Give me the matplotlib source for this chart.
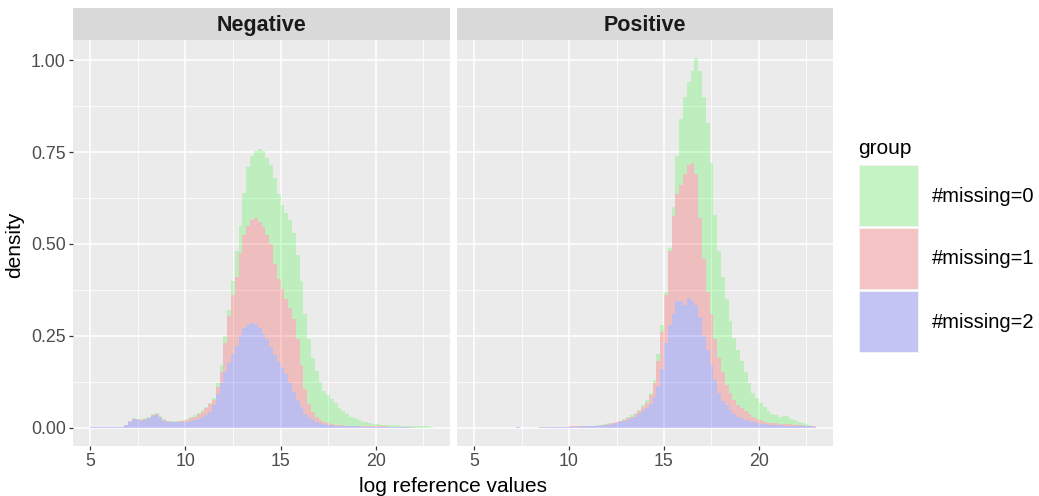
import numpy as np
import matplotlib
matplotlib.use("Agg")
import matplotlib.pyplot as plt
from matplotlib.patches import Rectangle

plt.rcParams['font.family'] = ['Liberation Sans', 'DejaVu Sans']

# ---------------- data ----------------
panels = ["Negative", "Positive"]
groups = ["#missing=0", "#missing=1", "#missing=2"]
bin_start = 5.0
bin_width = 0.2

# densities per bin (bins of width 0.2 from 5.0 to 23.0)
neg_m2 = [
    .002, .002, .002, .002, .002, .002, .002, .002, .002, .006,
    .015, .022, .020, .019, .021, .025, .032, .033, .027, .019,
    .015, .014, .014, .014, .015, .016, .018, .020, .024, .028,
    .035, .043, .060, .090, .120, .152, .175, .200, .222, .252,
    .270, .280, .286, .283, .272, .256, .242, .220, .198, .178,
    .162, .145, .120, .098, .075, .056, .038, .028, .020, .016,
    .013, .010, .008, .006, .005, .004, .004, .003, .003, .003,
    .003, .002, .002, .002, .002, .002, .002, .001, .001, .001,
    .001, .001, .001, .001, 0, 0, 0, 0, 0, 0]
neg_m1 = [
    0, 0, 0, 0, 0, 0, 0, 0, 0, .001,
    .002, .002, .002, .002, .002, .002, .003, .003, .003, .002,
    .002, .002, .002, .003, .004, .005, .007, .010, .012, .015,
    .017, .020, .015, .020, .030, .078, .130, .160, .188, .223,
    .255, .270, .279, .287, .288, .289, .283, .280, .247, .227,
    .216, .205, .205, .197, .165, .114, .067, .037, .022, .012,
    .007, .005, .004, .003, .003, .003, .002, .002, .002, .001,
    .001, .002, .001, .001, .001, .001, .001, .002, .001, .001,
    .001, .001, .001, .001, .001, 0, 0, 0, 0, 0]
neg_m0 = [
    0, 0, 0, 0, 0, 0, 0, 0, 0, .001,
    .002, .003, .002, .002, .002, .002, .003, .003, .002, .002,
    .002, .002, .002, .002, .002, .003, .004, .004, .004, .004,
    .004, .004, .005, .010, .020, .020, .015, .040, .070, .075,
    .115, .160, .175, .182, .198, .207, .210, .215, .235, .230,
    .227, .235, .240, .235, .230, .230, .205, .175, .148, .127,
    .105, .085, .076, .069, .058, .047, .039, .032, .025, .021,
    .016, .012, .011, .009, .007, .006, .005, .004, .005, .004,
    .004, .003, .003, .003, .003, .004, .003, .003, .003, .002]

pos_m2 = [
    0, 0, 0, 0, 0, 0, 0, 0, 0, 0,
    0, .001, 0, 0, 0, 0, 0, .001, 0, .001,
    .001, .002, .002, .002, .002, .002, .002, .002, .003, .003,
    .003, .004, .004, .005, .006, .008, .010, .012, .014, .017,
    .021, .025, .030, .036, .044, .053, .065, .082, .110, .160,
    .230, .280, .310, .345, .345, .335, .352, .345, .335, .300,
    .250, .210, .170, .130, .095, .072, .060, .048, .038, .030,
    .025, .021, .018, .015, .012, .010, .009, .008, .007, .006,
    .006, .005, .005, .005, .004, .004, .004, .003, .003, .002]
pos_m1 = [
    0, 0, 0, 0, 0, 0, 0, 0, 0, 0,
    0, 0, 0, 0, 0, 0, 0, 0, .001, 0,
    0, 0, 0, 0, 0, .001, .001, .001, .001, .001,
    .001, .001, .001, .001, .002, .002, .002, .002, .003, .004,
    .004, .005, .006, .008, .011, .015, .023, .038, .070, .100,
    .130, .200, .265, .290, .315, .355, .363, .375, .355, .270,
    .210, .160, .140, .110, .095, .078, .055, .047, .037, .032,
    .028, .024, .019, .015, .012, .010, .006, .005, .005, .005,
    .004, .005, .005, .004, .004, .003, .002, .002, .001, .001]
pos_m0 = [
    0, 0, 0, 0, 0, 0, 0, 0, 0, 0,
    0, 0, 0, 0, 0, 0, 0, 0, 0, 0,
    0, 0, 0, 0, 0, 0, 0, 0, 0, 0,
    .001, 0, .001, .001, .001, .001, .001, .001, .002, .002,
    .003, .004, .004, .004, .005, .007, .007, .010, .020, .020,
    .010, .010, .025, .105, .180, .210, .225, .250, .315, .400,
    .440, .460, .410, .340, .290, .260, .235, .195, .170, .148,
    .127, .105, .083, .065, .056, .046, .040, .032, .026, .022,
    .020, .021, .022, .015, .012, .009, .006, .005, .003, .002]

x_ticks = [5, 10, 15, 20]
y_ticks = [0.0, 0.25, 0.5, 0.75, 1.0]
y_ticklabels = ["0.00", "0.25", "0.50", "0.75", "1.00"]

data = {
    "Negative": {"#missing=0": neg_m0, "#missing=1": neg_m1, "#missing=2": neg_m2},
    "Positive": {"#missing=0": pos_m0, "#missing=1": pos_m1, "#missing=2": pos_m2},
}

# ---------------- style ----------------
fills = {"#missing=0": "#00FF00", "#missing=1": "#FF0000", "#missing=2": "#0000FF"}
ALPHA = 0.19
W, H = 1039, 496
fig = plt.figure(figsize=(W / 100, H / 100), dpi=100)
fig.patch.set_facecolor("white")

def fx(px):
    return px / W

def fy(py):
    return 1 - py / H

panel_x = [(73, 450), (457, 833)]
panel_top, panel_bot = 40, 446
strip_top = 8

edges = bin_start + bin_width * np.arange(len(neg_m0) + 1)
stack_order = ["#missing=2", "#missing=1", "#missing=0"]

for k, name in enumerate(panels):
    x0, x1 = panel_x[k]
    ax = fig.add_axes([fx(x0), fy(panel_bot), fx(x1 - x0), (panel_bot - panel_top) / H])
    ax.set_facecolor("#EBEBEB")
    for s in ax.spines.values():
        s.set_visible(False)
    ax.set_xlim(4.1, 23.9)
    ax.set_ylim(-0.0503, 1.0553)
    ax.set_xticks(x_ticks)
    ax.set_xticks([7.5, 12.5, 17.5, 22.5], minor=True)
    ax.set_yticks(y_ticks)
    ax.set_yticks([0.125, 0.375, 0.625, 0.875], minor=True)
    ax.grid(True, which="major", color="white", linewidth=1.1)
    ax.grid(True, which="minor", color="white", linewidth=0.55)
    ax.set_axisbelow(True)
    ax.tick_params(axis="both", which="major", length=3.2, width=0.9, color="#333333",
                   labelsize=12.8, labelcolor="#4D4D4D", pad=2)
    ax.tick_params(axis="both", which="minor", length=0)
    if k == 0:
        ax.set_yticklabels(y_ticklabels)
    else:
        ax.tick_params(axis="y", which="major", length=0, labelleft=False)

    base = np.zeros(len(edges) - 1)
    for g in stack_order:
        vals = np.array(data[name][g], dtype=float)
        ax.stairs(base + vals, edges, baseline=base.copy(), fill=True,
                  color=fills[g], alpha=ALPHA, linewidth=0, zorder=2)
        base = base + vals

    # strip
    sax = fig.add_axes([fx(x0), fy(panel_top), fx(x1 - x0), (panel_top - strip_top) / H])
    sax.set_facecolor("#D9D9D9")
    sax.set_xticks([])
    sax.set_yticks([])
    for s in sax.spines.values():
        s.set_visible(False)
    sax.text(0.5, 0.45, name, ha="center", va="center", fontsize=15.5,
             fontweight="bold", color="#1A1A1A", transform=sax.transAxes)

# axis titles
fig.text(fx(453), fy(486), "log reference values", ha="center", va="center", fontsize=15)
fig.text(fx(15), fy(245), "density", ha="center", va="center", rotation=90, fontsize=15)

# legend
fig.text(fx(858), fy(148), "group", ha="left", va="center", fontsize=15)
key_tops = [165, 228, 291]
for g, kt in zip(groups, key_tops):
    fig.add_artist(Rectangle((fx(859), fy(kt + 62)), fx(60), 62 / H, transform=fig.transFigure,
                             facecolor="#F2F2F2", edgecolor="none"))
    fig.add_artist(Rectangle((fx(860), fy(kt + 61)), fx(58), 60 / H, transform=fig.transFigure,
                             facecolor=fills[g], alpha=ALPHA, edgecolor="none"))
    fig.text(fx(932), fy(kt + 31), g, ha="left", va="center", fontsize=14.5)

fig.savefig("out.png", dpi=100)
